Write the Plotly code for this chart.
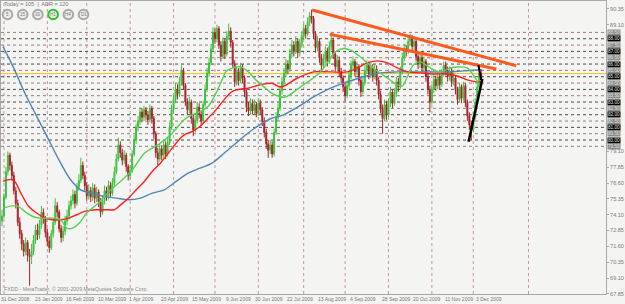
import plotly.graph_objects as go

# ---------------- data ----------------
close = [74.0, 75.5, 77.5, 78.8, 78.0, 77.2, 76.0, 75.0, 73.5, 72.6,
         71.8, 71.2, 71.9, 70.9, 70.8, 71.2, 72.1, 72.9, 72.5, 73.3,
         74.3, 73.8, 72.7, 72.0, 71.5, 72.6, 73.5, 74.8, 74.3, 73.0,
         72.3, 72.8, 73.6, 74.0, 74.8, 75.2, 75.7, 75.0, 76.3, 76.8,
         78.0, 77.2, 76.4, 75.6, 76.0, 75.5, 76.2, 75.4, 75.9, 75.1,
         74.3, 75.2, 76.0, 75.6, 76.4, 75.8, 76.6, 77.5, 78.5, 79.6,
         79.0, 78.4, 78.8, 77.9, 77.2, 77.6, 78.9, 80.0, 81.0, 81.5,
         82.2, 81.8, 82.4, 82.0, 81.6, 82.5, 81.7, 80.5, 79.0, 78.5,
         79.3, 78.8, 79.6, 78.9, 79.8, 81.0, 82.4, 83.2, 84.0, 83.6,
         84.6, 85.5, 84.3, 83.0, 82.4, 83.0, 81.7, 80.8, 81.5, 82.6,
         82.0, 81.5, 82.8, 84.0, 85.3, 86.1, 87.2, 88.5, 88.0, 88.8,
         87.5, 86.6, 87.8, 86.8, 88.2, 88.6, 87.7, 86.0, 84.6, 85.4,
         84.7, 85.7, 84.9, 83.8, 82.6, 82.3, 82.9, 82.3, 82.8, 82.1,
         82.9, 82.4, 81.5, 80.6, 79.7, 79.2, 79.6, 78.9, 80.6, 81.8,
         82.5, 83.9, 84.6, 85.3, 86.0, 85.6, 86.8, 87.5, 87.0, 87.8,
         86.9, 87.6, 88.2, 88.8, 88.4, 89.3, 89.8, 89.6, 88.4, 87.3,
         87.8, 86.5, 85.9, 86.4, 87.0, 86.2, 87.4, 87.9, 86.8, 85.8,
         86.3, 85.4, 84.9, 84.2, 83.5, 84.3, 85.1, 85.9, 86.2, 85.4,
         85.8, 84.7, 83.8, 84.5, 85.5, 85.9, 85.2, 85.7, 85.0, 85.6,
         84.7, 83.6, 82.5, 81.7, 82.8, 82.0, 82.9, 83.8, 82.9, 83.7,
         84.6, 84.2, 85.4, 86.5, 87.2, 87.0, 87.8, 88.1, 87.4, 87.8,
         86.6, 86.0, 86.5, 85.7, 86.2, 85.0, 84.0, 83.0, 84.0, 84.8,
         84.3, 85.0, 84.4, 85.2, 85.9, 85.5, 85.0, 85.4, 84.6, 84.9,
         84.0, 83.2, 84.2, 83.3, 84.3, 83.0, 81.9, 81.2, 80.8, 81.8,
         83.0, 84.2, 85.3, 84.8]

high = [74.5, 75.8, 77.9, 79.1, 79.0, 78.3, 77.5, 76.3, 75.3, 73.9,
        72.9, 72.1, 72.3, 72.1, 71.4, 71.8, 72.5, 73.3, 73.4, 73.7,
        74.8, 74.6, 74.0, 73.0, 72.4, 72.9, 73.8, 75.4, 75.1, 74.5,
        73.3, 73.2, 74.0, 74.5, 75.2, 75.6, 76.1, 76.0, 76.6, 77.3,
        78.6, 78.3, 77.5, 76.7, 76.5, 76.3, 76.6, 76.5, 76.3, 76.1,
        75.4, 75.6, 76.4, 76.3, 76.8, 76.7, 77.0, 77.9, 78.9, 80.2,
        79.9, 79.3, 79.2, 79.0, 78.1, 78.0, 79.2, 80.4, 81.3, 81.9,
        82.6, 82.5, 82.7, 82.6, 82.3, 82.8, 82.7, 81.9, 80.7, 79.4,
        79.7, 79.6, 80.0, 79.9, 80.2, 81.4, 82.8, 83.6, 84.5, 84.4,
        85.0, 85.9, 85.7, 84.5, 83.3, 83.4, 83.2, 82.0, 81.9, 83.0,
        82.9, 82.3, 83.1, 84.4, 85.7, 86.5, 87.6, 88.9, 88.8, 89.1,
        89.0, 87.8, 88.1, 88.0, 88.6, 89.2, 88.9, 87.9, 86.3, 85.8,
        85.7, 86.1, 86.0, 85.1, 84.0, 83.0, 83.3, 83.2, 83.2, 83.0,
        83.3, 83.2, 82.6, 81.8, 80.9, 80.0, 80.0, 79.9, 80.9, 82.2,
        82.9, 84.3, 85.0, 85.7, 86.4, 86.3, 87.2, 87.9, 87.8, 88.2,
        88.0, 88.0, 88.6, 89.2, 89.1, 89.7, 90.1, 90.3, 89.8, 88.6,
        88.2, 88.0, 86.8, 86.8, 87.4, 87.3, 87.8, 88.3, 88.1, 87.0,
        86.7, 86.6, 85.7, 85.1, 84.5, 84.7, 85.5, 86.3, 86.6, 86.4,
        86.2, 86.0, 85.0, 84.9, 85.9, 86.3, 86.2, 86.1, 86.0, 86.0,
        85.9, 85.0, 83.9, 82.8, 83.2, 83.1, 83.3, 84.2, 84.0, 84.1,
        85.0, 84.9, 85.8, 86.9, 87.6, 87.5, 88.2, 88.4, 88.3, 88.2,
        88.0, 86.9, 86.9, 86.8, 86.6, 86.4, 85.3, 84.3, 84.4, 85.2,
        85.1, 85.4, 85.3, 85.6, 86.2, 86.2, 85.8, 85.8, 85.7, 85.3,
        85.1, 84.2, 84.5, 84.4, 84.6, 84.5, 83.2, 82.2, 81.5, 82.2,
        83.3, 84.6, 85.9, 85.6]

low = [73.2, 73.8, 75.3, 77.2, 77.6, 76.8, 75.7, 74.6, 73.2, 72.2,
       71.3, 70.8, 70.9, 70.4, 68.5, 70.2, 70.9, 71.8, 72.1, 72.2,
       73.0, 73.4, 72.3, 71.6, 71.1, 71.3, 72.3, 73.3, 73.9, 72.7,
       71.9, 72.0, 72.5, 73.3, 73.7, 74.5, 74.9, 74.6, 74.8, 76.0,
       76.6, 76.9, 76.0, 75.2, 75.3, 75.1, 75.2, 75.0, 75.1, 74.7,
       73.9, 74.1, 74.9, 75.2, 75.3, 75.5, 75.6, 76.4, 77.3, 78.3,
       78.6, 78.0, 78.1, 77.5, 76.8, 76.9, 77.4, 78.7, 79.7, 80.7,
       81.2, 81.4, 81.5, 81.6, 81.2, 81.4, 81.3, 80.1, 78.6, 78.0,
       78.3, 78.4, 78.6, 78.5, 78.7, 79.6, 80.8, 82.1, 82.9, 83.2,
       83.4, 84.3, 84.0, 82.7, 82.0, 82.1, 81.3, 80.3, 80.6, 81.3,
       81.7, 81.1, 81.3, 82.6, 83.8, 85.0, 85.9, 87.0, 87.6, 87.7,
       87.2, 86.2, 86.4, 86.4, 86.6, 87.9, 87.3, 85.7, 84.2, 84.3,
       84.3, 84.5, 84.5, 83.4, 82.2, 81.9, 82.0, 82.0, 82.0, 81.8,
       81.9, 82.0, 81.1, 80.2, 79.3, 78.6, 78.9, 78.6, 78.7, 80.4,
       81.5, 82.3, 83.6, 84.3, 85.0, 85.2, 85.4, 86.5, 86.6, 86.8,
       86.5, 86.6, 87.3, 87.9, 88.0, 88.2, 89.0, 89.2, 88.0, 86.9,
       87.0, 86.1, 85.5, 85.6, 86.1, 85.8, 86.0, 87.1, 86.4, 85.4,
       85.5, 85.0, 84.5, 83.8, 83.1, 83.3, 84.0, 84.8, 85.6, 85.0,
       85.1, 84.3, 83.4, 83.6, 84.3, 85.2, 84.8, 84.9, 84.6, 84.8,
       84.3, 83.2, 82.1, 80.5, 81.5, 81.6, 81.8, 82.6, 82.5, 82.7,
       83.4, 83.8, 84.0, 85.2, 86.2, 86.6, 86.8, 87.5, 87.0, 87.1,
       86.2, 85.6, 85.7, 85.3, 85.4, 84.6, 83.6, 82.2, 82.8, 83.7,
       83.9, 84.0, 84.0, 84.2, 85.0, 85.1, 84.6, 84.7, 84.2, 84.3,
       83.6, 82.8, 83.0, 82.9, 83.1, 82.6, 81.5, 80.8, 80.0, 80.6,
       81.6, 82.8, 84.0, 84.6]

first_open = 73.6

# moving averages, sampled (bar, price)
ma_green_x = [0.5, 7.6, 11.6, 15.6, 19.7, 25.7, 29.8, 32.8, 35.8, 39.9, 42.9, 47.9,
              52.0, 56.0, 60.1, 66.1, 72.2, 76.2, 80.3, 86.3, 92.4, 96.4, 100.4,
              104.5, 108.5, 111.6, 113.6, 116.6, 120.6, 124.7, 128.7, 132.7, 136.8,
              140.8, 143.8, 151.4, 161.5, 169.1, 173.2, 176.7, 181.8, 188.3, 195.4,
              200.5, 203.0, 205.5, 208.6, 212.1, 217.2, 222.3, 227.3, 230.9, 235.9,
              239.0, 242.5]
ma_green_y = [74.62, 74.80, 74.35, 73.96, 73.83, 73.83, 73.70, 73.04, 73.04, 73.57, 74.23, 74.88,
              75.54, 76.20, 76.73, 77.65, 78.96, 79.36, 79.75, 80.54, 81.60, 81.99, 82.25,
              82.65, 83.70, 84.75, 85.41, 85.68, 85.80, 85.41, 84.75, 84.22, 83.70,
              83.43, 83.40, 84.20, 85.38, 86.96, 87.23, 87.10, 86.56, 85.69, 84.90,
              84.35, 84.27, 84.98, 85.93, 86.17, 85.69, 85.38, 85.69, 85.77, 85.69,
              85.14, 84.19]

ma_red_x = [0.5, 5.6, 9.6, 13.6, 17.7, 21.7, 25.7, 29.8, 33.8, 37.9, 41.9, 47.9,
            54.0, 57.0, 60.1, 64.1, 68.1, 72.2, 76.2, 80.3, 84.3, 88.3, 92.4, 96.4,
            100.4, 104.5, 108.5, 112.6, 116.6, 120.6, 124.7, 130.7, 136.8, 141.3,
            149.9, 158.0, 166.6, 175.2, 180.2, 185.3, 190.4, 195.4, 200.5, 205.6,
            212.1, 218.7, 225.8, 230.9, 235.9, 241.0, 243.5]
ma_red_y = [76.73, 76.86, 75.80, 74.75, 74.23, 73.83, 73.70, 73.70, 73.83, 74.10, 74.36, 74.49,
            74.49, 74.49, 74.88, 75.41, 76.07, 76.73, 77.52, 78.17, 78.96, 79.75, 80.41, 80.67,
            81.07, 81.72, 82.38, 83.17, 83.83, 84.01, 84.09, 84.35, 84.48, 84.19,
            84.90, 85.38, 85.38, 85.38, 85.69, 86.09, 86.25, 86.09, 85.69, 85.38,
            85.30, 85.22, 85.22, 85.06, 84.75, 84.59, 84.59]

ma_blue_x = [0.5, 5.6, 11.6, 17.7, 23.7, 29.8, 34.8, 39.9, 45.9, 52.0, 58.0, 64.1,
             70.2, 76.2, 82.3, 88.3, 94.4, 100.4, 106.5, 112.6, 118.6, 124.7, 130.7,
             136.8, 141.3, 149.9, 158.0, 166.6, 175.2, 183.3, 191.9, 200.5, 212.1,
             225.8, 233.9, 241.0, 243.5]
ma_blue_y = [87.38, 85.80, 83.70, 81.85, 80.01, 78.17, 76.86, 76.07, 75.80, 75.54, 75.41, 75.28,
             75.41, 75.80, 76.07, 76.73, 77.38, 77.78, 78.17, 78.96, 79.75, 80.54, 81.20,
             81.72, 81.90, 82.60, 83.40, 84.10, 84.59, 85.00, 85.30, 85.38, 85.38,
             85.38, 85.46, 85.54, 85.55]

# drawn trendlines: [bar1, price1, bar2, price2]
orange_lines = [[157.3, 90.27, 260.8, 85.87], [166.2, 88.35, 250.7, 85.61]]
black_lines = [[236.6, 79.87, 243.6, 84.82], [241.6, 85.93, 243.0, 84.74]]

# horizontal levels
levels = [88.5, 88.0, 87.5, 87.0, 86.5, 86.0, 85.5, 85.0, 84.5, 84.0,
          83.5, 83.0, 82.5, 82.0, 81.5, 81.0, 80.5, 80.0, 79.5]
yellow_level = 85.25

# month separators (bar index) and date labels
month_bars = [1, 23, 43, 65, 87, 108, 130, 153, 174, 196, 218, 239, 267]
date_bars = [0, 17, 33, 49, 65, 81, 97, 114, 129, 145, 161, 177, 193, 209, 225, 241]
date_text = ["31 Dec 2008", "23 Jan 2009", "16 Feb 2009", "10 Mar 2009", "1 Apr 2009",
             "23 Apr 2009", "15 May 2009", "9 Jun 2009", "30 Jun 2009", "22 Jul 2009",
             "13 Aug 2009", "4 Sep 2009", "28 Sep 2009", "20 Oct 2009", "11 Nov 2009",
             "3 Dec 2009"]
price_ticks = [90.35, 89.10, 79.10, 77.85, 76.60, 75.35, 74.10, 72.85, 71.60, 70.35, 69.10, 67.85]

tf_buttons = ["5", "15", "30", "H1", "H4", "D1"]
active_button = "H1"

# ---------------- figure ----------------
W, H = 625, 304
ML, MR, MT, MB = 1, 19, 1, 10
PW, PH = W - ML - MR, H - MT - MB
FONT = "Liberation Sans"

def px_x(px):
    return (px - ML) / PW

def px_y(py):
    return (H - MB - py) / PH

bars = list(range(len(close)))
open_ = [first_open] + close[:-1]

fig = go.Figure()

fig.add_trace(go.Candlestick(
    x=bars, open=open_, high=high, low=low, close=close,
    increasing=dict(line=dict(color="#3cc23c", width=1), fillcolor="#3cc23c"),
    decreasing=dict(line=dict(color="#a8202c", width=1), fillcolor="#a8202c"),
    whiskerwidth=0, hoverinfo="skip"))

for xs, ys, col in [(ma_blue_x, ma_blue_y, "#4f86b6"),
                    (ma_red_x, ma_red_y, "#ff1e1e"),
                    (ma_green_x, ma_green_y, "#55d255")]:
    fig.add_trace(go.Scatter(x=xs, y=ys, mode="lines", line=dict(color=col, width=1.4, shape="spline"),
                             hoverinfo="skip"))

for x1, y1, x2, y2 in orange_lines:
    fig.add_trace(go.Scatter(x=[x1, x2], y=[y1, y2], mode="lines",
                             line=dict(color="#ff5a1e", width=3), hoverinfo="skip"))
for i, (x1, y1, x2, y2) in enumerate(black_lines):
    fig.add_trace(go.Scatter(x=[x1, x2], y=[y1, y2], mode="lines",
                             line=dict(color="#000000", width=2.5 if i == 0 else 2), hoverinfo="skip"))

shapes = []
for b in month_bars:
    shapes.append(dict(type="line", xref="x", yref="paper", x0=b, x1=b, y0=0, y1=1,
                       line=dict(color="#c09a9a", width=1, dash="dot"), layer="below"))
for lv in levels:
    col = "#4a4a4a" if lv == int(lv) else "#9a7c7c"
    shapes.append(dict(type="line", xref="paper", yref="y", x0=0, x1=1, y0=lv, y1=lv,
                       line=dict(color=col, width=1, dash="dot"), layer="below"))
shapes.append(dict(type="line", xref="paper", yref="y", x0=0, x1=1, y0=yellow_level, y1=yellow_level,
                   line=dict(color="#f2c21a", width=1), layer="below"))

# timeframe buttons
for i, lab in enumerate(tf_buttons):
    cx, cy, r = 7.5 + 15.2 * i, 14.5, 4.8
    shapes.append(dict(type="circle", xref="paper", yref="paper",
                       x0=px_x(cx - r), x1=px_x(cx + r), y0=px_y(cy + r), y1=px_y(cy - r),
                       line=dict(color="#22c822" if lab == active_button else "#a8a8a8", width=2),
                       fillcolor="#ececec"))

annotations = []
for i, lab in enumerate(tf_buttons):
    annotations.append(dict(xref="paper", yref="paper", x=px_x(7.5 + 15.2 * i), y=px_y(14.5),
                            text=lab, showarrow=False, font=dict(size=4.5, color="#777777", family=FONT),
                            xanchor="center", yanchor="middle"))

annotations.append(dict(xref="paper", yref="paper", x=px_x(3), y=px_y(0), text="Today = 105  |  ADR = 120",
                        showarrow=False, xanchor="left", yanchor="top", borderpad=0,
                        font=dict(size=5.5, color="#777777", family=FONT)))
annotations.append(dict(xref="paper", yref="paper", x=px_x(3), y=px_y(293),
                        text="FXDD - MetaTrader, © 2001-2009 MetaQuotes Software Corp.",
                        showarrow=False, xanchor="left", yanchor="bottom", borderpad=0,
                        font=dict(size=5.2, color="#8a8a8a", family=FONT)))

for b, t in zip(date_bars, date_text):
    annotations.append(dict(xref="x", yref="paper", x=b, y=0, text=t, showarrow=False,
                            xanchor="left", yanchor="top", xshift=-2, yshift=-1, borderpad=0,
                            font=dict(size=5, color="#777777", family=FONT)))

for lv in levels:
    is_int = lv == int(lv)
    annotations.append(dict(xref="paper", yref="y", x=1, y=lv, text=f"{lv:.2f}", showarrow=False,
                            xanchor="left", yanchor="middle", xshift=1,
                            bgcolor="#000000" if is_int else "#8a8a8a", borderpad=0,
                            font=dict(size=4.6, color="#e0e0e0", family=FONT)))

fig.update_layout(
    width=W, height=H, margin=dict(l=ML, r=MR, t=MT, b=MB),
    paper_bgcolor="#f4f4f2", plot_bgcolor="#f4f4f2", showlegend=False,
    shapes=shapes, annotations=annotations,
    xaxis=dict(range=[-0.5, 306.3], showgrid=False, zeroline=False, showticklabels=False,
               showline=True, linecolor="#a8a8a8", mirror=True, rangeslider=dict(visible=False),
               fixedrange=True),
    yaxis=dict(range=[67.84, 90.98], side="right", showgrid=False, zeroline=False,
               tickvals=price_ticks, ticktext=[f"{v:.2f}" for v in price_ticks],
               tickfont=dict(size=5.5, color="#7a7a7a", family=FONT),
               ticks="outside", ticklen=2, tickcolor="#a8a8a8",
               showline=True, linecolor="#a8a8a8", mirror=True, fixedrange=True),
)

fig.write_html("out.html")
